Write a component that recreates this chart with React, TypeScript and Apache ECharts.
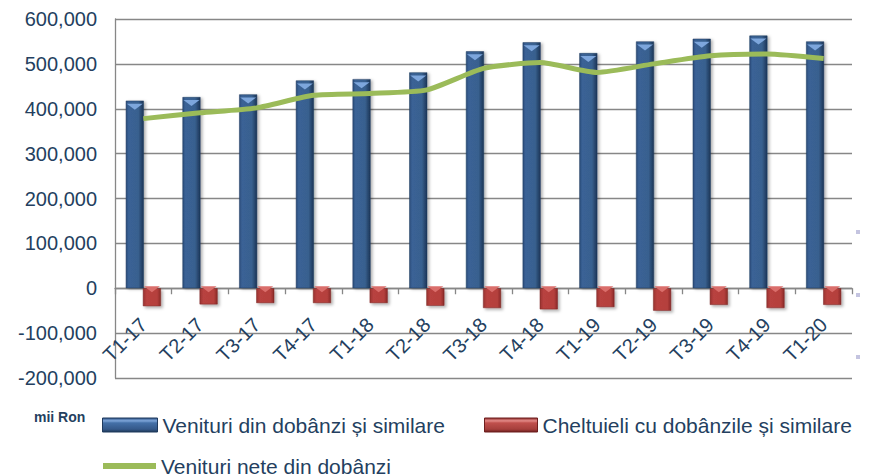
import React, { useEffect, useRef } from "react";
import * as echarts from "echarts";

const categories = ["T1-17", "T2-17", "T3-17", "T4-17", "T1-18", "T2-18", "T3-18", "T4-18", "T1-19", "T2-19", "T3-19", "T4-19", "T1-20"];
const income = [418000, 426000, 432000, 463000, 466000, 481000, 528000, 548000, 524000, 550000, 556000, 563000, 550000];
const expenses = [-40000, -36000, -33000, -33000, -33000, -39000, -44000, -47000, -42000, -50000, -37000, -44000, -37000];
const netIncome = [378000, 391000, 402000, 430000, 434000, 442000, 490000, 503000, 481000, 500000, 518000, 522000, 512000];
const seriesNames = ["Venituri din dobânzi și similare", "Cheltuieli cu dobânzile și similare", "Venituri nete din dobânzi"];
const unitLabel = "mii Ron";

const FONT = "'Liberation Sans', Arial, sans-serif";
const LABEL_COLOR = "#243F60";
const GRID_COLOR = "#878787";

export default function App() {
  const ref = useRef<HTMLDivElement>(null);
  useEffect(() => {
    if (!ref.current) return;
    const chart = echarts.init(ref.current, null, { renderer: "svg" });
    const blueGrad = new echarts.graphic.LinearGradient(0, 0, 1, 0, [
      { offset: 0, color: "#2B4C7A" },
      { offset: 0.15, color: "#3A6296" },
      { offset: 0.7, color: "#39618F" },
      { offset: 1, color: "#1C3557" },
    ]);
    const redGrad = new echarts.graphic.LinearGradient(0, 0, 1, 0, [
      { offset: 0, color: "#9A3331" },
      { offset: 0.2, color: "#B8423F" },
      { offset: 0.8, color: "#B5403D" },
      { offset: 1, color: "#8A2A28" },
    ]);
    const blueIcon = new echarts.graphic.LinearGradient(0, 0, 0, 1, [
      { offset: 0, color: "#2E5285" },
      { offset: 0.2, color: "#7EA6DA" },
      { offset: 0.35, color: "#4470A8" },
      { offset: 0.8, color: "#35598A" },
      { offset: 1, color: "#1E3858" },
    ]);
    const redIcon = new echarts.graphic.LinearGradient(0, 0, 0, 1, [
      { offset: 0, color: "#8E2E2C" },
      { offset: 0.2, color: "#E48A88" },
      { offset: 0.35, color: "#C0504D" },
      { offset: 0.8, color: "#A63F3C" },
      { offset: 1, color: "#6E1F1E" },
    ]);
    const legendCommon = {
      padding: 0,
      itemGap: 10,
      textStyle: { fontFamily: FONT, fontSize: 21, lineHeight: 22, color: LABEL_COLOR },
    };
    const zeroOffset = -(474 - 96 - (19 + (6 * (474 - 19 - 96)) / 8));
    chart.setOption({
      animation: false,
      grid: { left: 115, right: 18, top: 19, bottom: 96 },
      legend: [
        {
          ...legendCommon,
          left: 102,
          top: 414,
          data: [{ name: seriesNames[0], icon: "rect", itemStyle: { color: blueIcon, borderColor: "#1F3A5E", borderWidth: 1 } }],
          itemWidth: 55,
          itemHeight: 14,
        },
        {
          ...legendCommon,
          left: 484,
          top: 414,
          data: [{ name: seriesNames[1], icon: "rect", itemStyle: { color: redIcon, borderColor: "#6E1F1E", borderWidth: 1 } }],
          itemWidth: 53,
          itemHeight: 14,
        },
        {
          ...legendCommon,
          left: 103,
          top: 455,
          data: [{ name: seriesNames[2], icon: "rect", itemStyle: { color: "#9BBB59" } }],
          itemWidth: 53,
          itemHeight: 6,
        },
      ],
      xAxis: {
        type: "category",
        data: categories,
        offset: zeroOffset,
        axisLine: { onZero: false, lineStyle: { color: GRID_COLOR, width: 1.3 } },
        axisTick: { show: true, length: 6, lineStyle: { color: GRID_COLOR, width: 1.3 } },
        axisLabel: {
          rotate: 45,
          margin: 33,
          fontFamily: FONT,
          fontSize: 20,
          color: LABEL_COLOR,
        },
      },
      yAxis: {
        type: "value",
        min: -200000,
        max: 600000,
        interval: 100000,
        axisLine: { show: true, lineStyle: { color: GRID_COLOR, width: 1.3 } },
        axisTick: { show: false },
        splitLine: { lineStyle: { color: GRID_COLOR, width: 1.3 } },
        axisLabel: {
          margin: 18,
          fontFamily: FONT,
          fontSize: 20,
          color: LABEL_COLOR,
          formatter: (v: number) => v.toLocaleString("en-US"),
        },
      },
      series: [
        {
          name: seriesNames[0],
          type: "bar",
          data: income,
          barWidth: 18,
          barGap: "-5%",
          itemStyle: {
            color: blueGrad,
            borderColor: "#1F3A5E",
            borderWidth: 0.5,
            shadowColor: "rgba(0,0,0,0.3)",
            shadowBlur: 3,
            shadowOffsetX: 2,
            shadowOffsetY: 1,
          },
          z: 2,
        },
        {
          name: seriesNames[1],
          type: "bar",
          data: expenses,
          barWidth: 18,
          barGap: "-5%",
          itemStyle: {
            color: redGrad,
            borderColor: "#7A2523",
            borderWidth: 0.5,
            shadowColor: "rgba(0,0,0,0.3)",
            shadowBlur: 3,
            shadowOffsetX: 2,
            shadowOffsetY: 2,
          },
          z: 2,
        },
        {
          name: "blueTop",
          type: "pictorialBar",
          data: income,
          barWidth: 18,
          barGap: "-5%",
          symbol: "triangle",
          symbolRotate: 180,
          symbolSize: [16, 6],
          symbolPosition: "end",
          symbolOffset: [0, "50%"],
          itemStyle: { color: "#7DA6DC" },
          silent: true,
          z: 3,
        },
        {
          name: "redTop",
          type: "pictorialBar",
          data: expenses.map(() => 0),
          barWidth: 18,
          barGap: "-5%",
          symbol: "triangle",
          symbolRotate: 180,
          symbolSize: [16, 6],
          symbolPosition: "start",
          symbolOffset: [0, 4],
          itemStyle: { color: "#DA6E6B" },
          silent: true,
          z: 3,
        },
        {
          name: seriesNames[2],
          type: "line",
          data: netIncome,
          smooth: 0.2,
          showSymbol: false,
          symbol: "none",
          lineStyle: { color: "#9BBB59", width: 5 },
          itemStyle: { color: "#9BBB59" },
          z: 4,
        },
      ],
      graphic: [
        {
          type: "text",
          left: 34,
          top: 410,
          style: { text: unitLabel, fontFamily: FONT, fontSize: 14, fontWeight: "bold", fill: LABEL_COLOR },
        },
        { type: "rect", shape: { x: 856, y: 230, width: 4, height: 4 }, style: { fill: "#C4C4E0" } },
        { type: "rect", shape: { x: 856, y: 293, width: 4, height: 4 }, style: { fill: "#C4C4E0" } },
        { type: "rect", shape: { x: 856, y: 355, width: 4, height: 4 }, style: { fill: "#C4C4E0" } },
      ],
    });
    return () => chart.dispose();
  }, []);
  return <div ref={ref} style={{ position: "absolute", left: 0, top: 0, width: 870, height: 474 }} />;
}
